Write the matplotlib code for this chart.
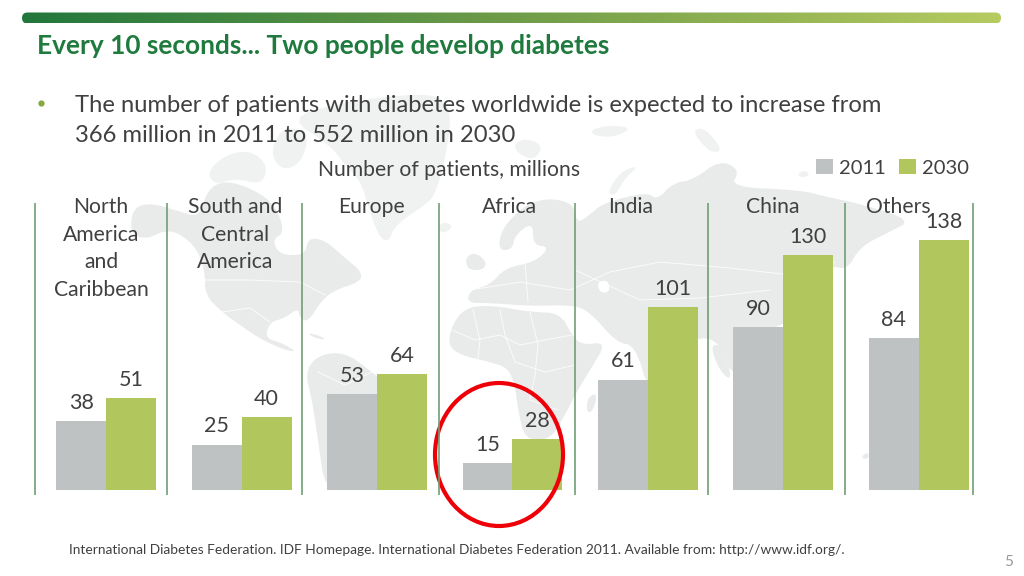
import numpy as np
import matplotlib
matplotlib.use('Agg')
import matplotlib.pyplot as plt
from matplotlib.patches import Ellipse, FancyBboxPatch, Polygon

regions = ['North\nAmerica\nand\nCaribbean', 'South and\nCentral\nAmerica', 'Europe', 'Africa', 'India', 'China', 'Others']
region_x = [101, 235, 371, 509, 631, 773, 898]
patients_2011 = [38, 25, 53, 15, 61, 90, 84]
patients_2030 = [51, 40, 64, 28, 101, 130, 138]
separators_x = [35, 167, 302, 438.7, 575.3, 708.3, 844.7, 973]

TEXT = '#404040'
GREY = '#bfc2c3'
GREEN = '#b2c65e'
MAP = '#e9eaea'
MAP_FADED = '#f0f1f1'
LINE = '#6f9f74'

# rough continent outlines behind the chart, page pixels
land = [
    [(133, 208), (150, 203), (175, 210), (200, 218), (207, 190), (225, 180), (255, 190), (275, 205), (285, 232),
     (272, 240), (280, 255), (305, 255), (308, 238), (325, 240), (345, 258), (362, 272), (360, 282), (335, 290),
     (322, 300), (308, 322), (300, 318), (298, 308), (285, 318), (270, 322), (265, 338), (282, 343), (297, 352),
     (285, 350), (262, 340), (240, 325), (222, 312), (205, 295), (205, 270), (195, 245), (170, 228), (145, 240), (130, 232)],
    [(305, 372), (318, 355), (345, 352), (372, 372), (400, 395), (380, 440), (345, 480), (325, 490), (318, 440), (312, 400)],
    [(307, 333), (318, 335), (327, 340), (315, 338)],
    [(448, 345), (452, 325), (465, 308), (490, 305), (530, 312), (560, 313), (572, 335), (582, 345), (607, 342),
     (590, 370), (575, 395), (565, 415), (550, 440), (525, 440), (518, 410), (515, 385), (508, 368), (490, 362), (460, 355)],
    [(587, 400), (594, 393), (597, 398), (592, 412), (587, 412)],
    [(465, 258), (475, 252), (487, 262), (483, 270), (468, 270)],
    [(498, 250), (502, 228), (525, 205), (548, 198), (573, 203), (577, 223), (587, 217), (603, 203), (647, 192),
     (657, 200), (673, 183), (693, 180), (720, 160), (740, 170), (730, 187), (800, 190), (827, 197), (857, 203),
     (913, 220), (887, 233), (860, 247), (847, 270), (830, 265), (835, 290), (812, 320), (790, 320), (760, 335),
     (733, 381), (722, 345), (700, 335), (665, 360), (650, 395), (635, 345), (617, 343), (590, 312), (573, 305),
     (530, 306), (490, 303), (467, 303), (470, 290), (490, 285), (505, 268), (535, 262), (550, 247), (533, 245), (533, 222), (515, 235), (512, 250)],
    [(710, 345), (722, 345), (733, 381), (720, 372)],
    [(862, 456), (868, 452), (869, 458), (863, 459)],
]
land_faded = [
    [(207, 172), (225, 155), (250, 150), (268, 165), (262, 185), (235, 178), (215, 185)],
    [(270, 150), (285, 125), (310, 135), (300, 165), (280, 170)],
    [(288, 118), (340, 103), (400, 95), (440, 95), (452, 115), (445, 160), (435, 195), (425, 205), (395, 225),
     (388, 243), (378, 235), (368, 205), (360, 180), (345, 165), (330, 145)],
    [(438, 226), (445, 222), (453, 226), (447, 232), (440, 232)],
    [(607, 193), (620, 172), (640, 165), (625, 178), (615, 196)],
    [(513, 145), (525, 138), (543, 145), (535, 160), (520, 155)],
    [(590, 130), (610, 125), (632, 128), (615, 137), (595, 136)],
    [(693, 130), (705, 128), (723, 150), (712, 153), (700, 142)],
    [(797, 174), (805, 170), (810, 175), (802, 178)],
]
# country borders, thin white lines over the land
borders = [
    [(452, 330), (475, 340), (500, 335), (520, 345), (545, 340), (572, 335)],
    [(500, 310), (505, 335), (515, 362), (545, 372), (575, 365)],
    [(530, 312), (538, 345), (535, 375), (530, 400), (558, 410)],
    [(473, 310), (480, 340), (478, 358)],
    [(470, 290), (520, 282), (570, 290), (610, 272), (660, 262), (730, 268), (790, 275), (835, 262)],
    [(525, 262), (528, 302)],
    [(575, 270), (640, 300), (700, 298), (770, 290)],
    [(205, 280), (250, 280), (300, 282), (325, 295)],
    [(222, 312), (250, 308), (270, 322)],
    [(318, 372), (345, 385), (372, 372)],
]


def smooth(points, rounds=2):
    # corner cutting so the outlines do not look like straight polygons
    pts = np.array(points, dtype=float)
    for _ in range(rounds):
        nxt = np.roll(pts, -1, axis=0)
        pts = np.column_stack([0.75 * pts + 0.25 * nxt, 0.25 * pts + 0.75 * nxt]).reshape(-1, 2)
    return pts


fig = plt.figure(figsize=(10.24, 5.76), dpi=100, facecolor='white')
plt.rcParams['font.family'] = ['Lato', 'DejaVu Sans']

page = fig.add_axes([0, 0, 1, 1], zorder=0)
page.set_xlim(0, 1024)
page.set_ylim(576, 0)
page.axis('off')
for outline in land:
    page.add_patch(Polygon(smooth(outline), closed=True, facecolor=MAP, edgecolor='none'))
for outline in land_faded:
    page.add_patch(Polygon(smooth(outline), closed=True, facecolor=MAP_FADED, edgecolor='none'))
for line in borders:
    page.plot(*zip(*line), color='white', lw=0.7, alpha=0.8)
page.add_patch(Polygon(smooth([(597, 282), (608, 280), (610, 292), (600, 293)]), closed=True, facecolor='white', edgecolor='none'))

# gradient header bar
ramp = np.linspace(0, 1, 256).reshape(1, -1)
cmap = matplotlib.colors.LinearSegmentedColormap.from_list('bar', ['#22773c', '#6f9c48', '#b6cb60'])
header = page.imshow(ramp, extent=(22, 1001, 23.5, 12.5), cmap=cmap, aspect='auto', zorder=2)
clip = FancyBboxPatch((22, 12.5), 979, 11, boxstyle='round,pad=0,rounding_size=5.5', facecolor='none', edgecolor='none')
page.add_patch(clip)
header.set_clip_path(clip)
page.set_xlim(0, 1024)
page.set_ylim(576, 0)

# bars: baseline at y=489.7, 1.806 px per million
ax = fig.add_axes([38.6 / 1024, (576 - 489.7) / 576, 947.8 / 1024, 288.96 / 576], zorder=1)
ax.patch.set_alpha(0)
ax.set_xlim(-0.5, 6.5)
ax.set_ylim(0, 160)
ax.axis('off')
x = np.arange(len(regions))
width = 0.369
b1 = ax.bar(x - width / 2, patients_2011, width, color=GREY, label='2011')
b2 = ax.bar(x + width / 2, patients_2030, width, color=GREEN, label='2030')
ax.bar_label(b1, padding=5.8, fontsize=15.5, color=TEXT)
ax.bar_label(b2, padding=5.8, fontsize=15.5, color=TEXT)

top = fig.add_axes([0, 0, 1, 1], zorder=2)
top.set_xlim(0, 1024)
top.set_ylim(576, 0)
top.axis('off')
top.patch.set_alpha(0)
top.vlines(separators_x, 203, 495.3, color=LINE, lw=1.2)
top.add_patch(Ellipse((499, 454.5), 128, 143, facecolor='none', edgecolor='#ee0008', lw=3))

top.text(37, 46, 'Every 10 seconds... Two people develop diabetes', fontsize=18.95, fontweight='bold', color='#1f7a3d', va='center')
top.plot([41], [103], 'o', ms=4.5, color='#85a93c', mew=0)
top.text(75, 106, 'The number of patients with diabetes worldwide is expected to increase from', fontsize=17.1, color=TEXT, va='center')
top.text(75, 136, '366 million in 2011 to 552 million in 2030', fontsize=17.1, color=TEXT, va='center')
top.text(449, 170, 'Number of patients, millions', fontsize=15.25, color=TEXT, va='center', ha='center')
for label, lx in zip(regions, region_x):
    top.text(lx, 197, label, fontsize=15.25, color=TEXT, va='top', ha='center', linespacing=1.476)
top.text(69, 550, 'International Diabetes Federation. IDF Homepage. International Diabetes Federation 2011. Available from: http://www.idf.org/.',
         fontsize=9.9, color=TEXT, va='center')
top.text(1009, 562, '5', fontsize=11, color='#9a9a9a', va='center', ha='center')

leg = top.legend(handles=[b1, b2], ncol=2, frameon=False, fontsize=14.5, loc='center left',
                 bbox_to_anchor=(816 / 1024, 1 - 168 / 576), borderpad=0, borderaxespad=0,
                 handlelength=0.85, handleheight=0.7, handletextpad=0.3, columnspacing=0.65, labelcolor=TEXT)

fig.savefig('out.png', dpi=100)
plt.close(fig)
